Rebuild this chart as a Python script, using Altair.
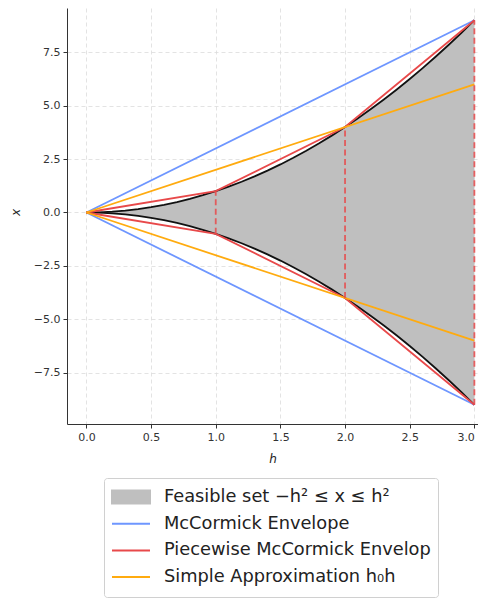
import altair as alt
import pandas as pd

# ---------------- data ----------------
h_curve = [0.0, 0.1, 0.2, 0.3, 0.4, 0.5, 0.6, 0.7, 0.8, 0.9, 1.0,
           1.1, 1.2, 1.3, 1.4, 1.5, 1.6, 1.7, 1.8, 1.9, 2.0,
           2.1, 2.2, 2.3, 2.4, 2.5, 2.6, 2.7, 2.8, 2.9, 3.0]
x_upper = [0.0, 0.01, 0.04, 0.09, 0.16, 0.25, 0.36, 0.49, 0.64, 0.81, 1.0,
           1.21, 1.44, 1.69, 1.96, 2.25, 2.56, 2.89, 3.24, 3.61, 4.0,
           4.41, 4.84, 5.29, 5.76, 6.25, 6.76, 7.29, 7.84, 8.41, 9.0]
x_lower = [0.0, -0.01, -0.04, -0.09, -0.16, -0.25, -0.36, -0.49, -0.64, -0.81, -1.0,
           -1.21, -1.44, -1.69, -1.96, -2.25, -2.56, -2.89, -3.24, -3.61, -4.0,
           -4.41, -4.84, -5.29, -5.76, -6.25, -6.76, -7.29, -7.84, -8.41, -9.0]

mcc_h = [0.0, 3.0]
mcc_upper = [0.0, 9.0]
mcc_lower = [0.0, -9.0]

pw_h = [0.0, 1.0, 2.0, 3.0]
pw_upper = [0.0, 1.0, 4.0, 9.0]
pw_lower = [0.0, -1.0, -4.0, -9.0]

simple_h = [0.0, 3.0]
simple_upper = [0.0, 6.0]
simple_lower = [0.0, -6.0]

breaks_h = [1.0, 2.0, 3.0]
breaks_lo = [-1.0, -4.0, -9.0]
breaks_hi = [1.0, 4.0, 9.0]

legend_labels = ["Feasible set \u2212h\u00b2 \u2264 x \u2264 h\u00b2",
                 "McCormick Envelope",
                 "Piecewise McCormick Envelop",
                 "Simple Approximation h\u2080h"]

y_ticks = [-7.5, -5.0, -2.5, 0.0, 2.5, 5.0, 7.5]
x_ticks = [0.0, 0.5, 1.0, 1.5, 2.0, 2.5, 3.0]

GRAY = "#bfbfbf"
BLUE = "#6e96ff"
RED = "#e8494a"
ORANGE = "#ffab0f"
BLACK = "#111111"

# ---------------- tables ----------------
df_fill = pd.DataFrame({"h": h_curve, "up": x_upper, "lo": x_lower})


def two_branch(hs, ups, los):
    rows = []
    for i, (hh, u) in enumerate(zip(hs, ups)):
        rows.append({"h": hh, "x": u, "branch": "upper", "i": i})
    for i, (hh, l) in enumerate(zip(hs, los)):
        rows.append({"h": hh, "x": l, "branch": "lower", "i": i})
    return pd.DataFrame(rows)


df_curve = two_branch(h_curve, x_upper, x_lower)
df_mcc = two_branch(mcc_h, mcc_upper, mcc_lower)
df_pw = two_branch(pw_h, pw_upper, pw_lower)
df_simple = two_branch(simple_h, simple_upper, simple_lower)
df_breaks = pd.DataFrame({"h": breaks_h, "lo": breaks_lo, "hi": breaks_hi})
df_legend = pd.DataFrame({"label": legend_labels, "h": [0.0] * 4, "x": [0.0] * 4})

# ---------------- scales / axes ----------------
xscale = alt.Scale(domain=[-0.15, 3.028], nice=False, zero=False)
yscale = alt.Scale(domain=[-9.9, 9.572], nice=False, zero=False)

xaxis = alt.Axis(title="h", values=x_ticks, format=".1f", titleFontStyle="italic",
                 titleY=34, titleBaseline="middle", labelFlush=8)
yaxis = alt.Axis(title="x", values=y_ticks, format=".1f", titleFontStyle="italic",
                 titleX=-52, titleY=204, titleBaseline="middle", titleAngle=270)

X = alt.X("h:Q", scale=xscale, axis=xaxis)
Y = alt.Y("x:Q", scale=yscale, axis=yaxis)

area = alt.Chart(df_fill).mark_area(color=GRAY, opacity=1).encode(
    x=alt.X("h:Q", scale=xscale, axis=xaxis),
    y=alt.Y("up:Q", scale=yscale, axis=yaxis),
    y2="lo:Q",
)


def lines(df, color, width=1.8):
    return alt.Chart(df).mark_line(color=color, strokeWidth=width).encode(
        x=X, y=Y, detail="branch:N", order="i:Q"
    )


curve = lines(df_curve, BLACK, 1.8)
mcc = lines(df_mcc, BLUE, 1.8)
pw = lines(df_pw, RED, 1.8)
simple = lines(df_simple, ORANGE, 1.8)

breaks = alt.Chart(df_breaks).mark_rule(color=RED, strokeWidth=1.8, strokeDash=[6, 3.5],
                                        opacity=0.85).encode(
    x=alt.X("h:Q", scale=xscale, axis=xaxis),
    y=alt.Y("lo:Q", scale=yscale, axis=yaxis),
    y2="hi:Q",
)

rect_path = "M-1,-0.34H1V0.34H-1Z"
leg = alt.Legend(orient="none", legendX=37, legendY=470, title=None,
                 labelFontSize=17.8, labelFont="DejaVu Sans", labelColor="#222",
                 symbolSize=1444, symbolStrokeWidth=2, clipHeight=24, rowPadding=2.7,
                 labelOffset=13, padding=7, strokeColor="#d0d0d0", cornerRadius=3,
                 fillColor="white", labelLimit=400, direction="vertical", symbolOffset=0,
                 symbolFillColor=GRAY, symbolOpacity=1)

legend_layer = alt.Chart(df_legend).mark_point(opacity=0, filled=True, fill=GRAY).encode(
    x=X, y=Y,
    stroke=alt.Stroke("label:N", scale=alt.Scale(domain=legend_labels,
                      range=[GRAY, BLUE, RED, ORANGE]), legend=leg),
    shape=alt.Shape("label:N", scale=alt.Scale(domain=legend_labels,
                    range=[rect_path, "stroke", "stroke", "stroke"]), legend=leg),
)

chart = alt.layer(area, curve, mcc, pw, simple, breaks, legend_layer).properties(
    width=411, height=416,
    autosize=alt.AutoSizeParams(type="none"),
    padding={"left": 59, "top": 0, "right": 0, "bottom": 176},
).configure_view(stroke=None).configure_axis(
    domainColor="#333", tickColor="#333", labelColor="#333", titleColor="#222",
    labelFont="DejaVu Sans", titleFont="DejaVu Sans", labelFontSize=11, titleFontSize=12,
    titleFontWeight="normal", tickSize=4, labelPadding=3,
    gridColor="#dcdcdc", gridDash=[4, 3], gridWidth=0.8, domainWidth=1,
)

chart.save("out.html", embed_options={"renderer": "svg", "actions": False})
